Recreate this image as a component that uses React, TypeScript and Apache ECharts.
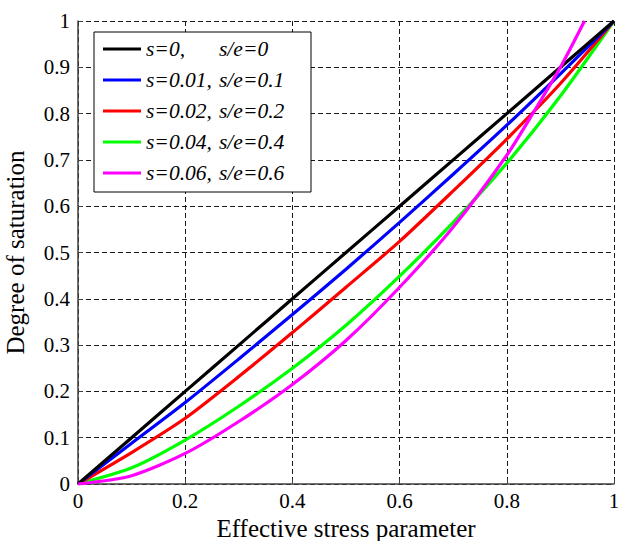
import React, { useEffect, useRef } from "react";
import * as echarts from "echarts";

const xValues = [0, 0.1, 0.2, 0.3, 0.4, 0.5, 0.6, 0.7, 0.8, 0.9, 1];
const sValues = ["0", "0.01", "0.02", "0.04", "0.06"];
const seValues = ["0", "0.1", "0.2", "0.4", "0.6"];
const colors = ["#000000", "#0000ff", "#ff0000", "#00ff00", "#ff00ff"];

const curveS0 = [0, 0.1, 0.2, 0.3, 0.4, 0.5, 0.6, 0.7, 0.8, 0.9, 1];
const curveS001 = [0, 0.088, 0.176, 0.27, 0.366, 0.464, 0.565, 0.669, 0.775, 0.886, 1];
const curveS002 = [0, 0.068, 0.142, 0.232, 0.327, 0.425, 0.524, 0.633, 0.745, 0.865, 1];
const curveS004 = [0, 0.035, 0.095, 0.168, 0.25, 0.343, 0.449, 0.565, 0.693, 0.838, 1];
const magentaX = [0, 0.1, 0.2, 0.3, 0.4, 0.5, 0.6, 0.7, 0.8, 0.85, 0.9, 0.945];
const curveS006 = [0, 0.018, 0.066, 0.135, 0.215, 0.31, 0.425, 0.555, 0.71, 0.803, 0.9, 1];

const xTicks = ["0", "0.2", "0.4", "0.6", "0.8", "1"];
const xName = "Effective stress parameter";
const yName = "Degree of saturation";

const FONT = "Times New Roman, Liberation Serif, DejaVu Serif, serif";

export default function App() {
  const ref = useRef<HTMLDivElement>(null);
  useEffect(() => {
    if (!ref.current) return;
    const chart = echarts.init(ref.current, null, { renderer: "svg" });
    const ys = [curveS0, curveS001, curveS002, curveS004];
    const names = sValues.map((s, i) => `s=${s}, s/e=${seValues[i]}`);
    const series: any[] = ys.map((arr, i) => ({
      name: names[i],
      type: "line",
      data: xValues.map((x, j) => [x, arr[j]]),
      showSymbol: false,
      smooth: 0.25,
      lineStyle: { color: colors[i], width: 3.2 },
      itemStyle: { color: colors[i] },
      z: 10 - i,
    }));
    series.push({
      name: names[4],
      type: "line",
      data: magentaX.map((x, j) => [x, curveS006[j]]),
      showSymbol: false,
      smooth: 0.25,
      lineStyle: { color: colors[4], width: 3.2 },
      itemStyle: { color: colors[4] },
      z: 11,
    });
    const gridLine = {
      show: true,
      lineStyle: { color: "#1a1a1a", width: 1, type: [5, 3] as any },
    };
    const legendText = {
      fontFamily: FONT,
      fontStyle: "italic",
      fontSize: 21.5,
      color: "#000",
      lineHeight: 22,
    };
    chart.setOption({
      animation: false,
      backgroundColor: "#fff",
      textStyle: { fontFamily: FONT },
      grid: {
        left: 78,
        right: 4,
        top: 21,
        bottom: 57,
        containLabel: false,
        outerBoundsMode: "none",
      },
      legend: {
        orient: "vertical",
        left: 94,
        top: 32,
        backgroundColor: "#fff",
        borderColor: "#000",
        borderWidth: 1,
        borderRadius: 0,
        padding: [6, 8, 8, 9],
        itemWidth: 38,
        itemHeight: 3,
        itemGap: 9,
        itemTextGap: 11,
        icon: "rect",
        data: names,
        formatter: (name: string) => {
          const parts = name.split(", ");
          return `{a|${parts[0]},}{b|${parts[1]}}`;
        },
        textStyle: {
          ...legendText,
          rich: {
            a: { ...legendText, width: 73 },
            b: { ...legendText, width: 84 },
          },
        },
      },
      xAxis: {
        type: "value",
        min: 0,
        max: 1,
        interval: 0.2,
        name: xName,
        nameLocation: "middle",
        nameGap: 32,
        nameTextStyle: { fontFamily: FONT, fontSize: 25, color: "#000" },
        axisLine: { show: true, lineStyle: { color: "#404040", width: 1.5 } },
        axisTick: { show: true, inside: true, length: 5, lineStyle: { color: "#404040" } },
        axisLabel: {
          fontFamily: FONT,
          fontSize: 21,
          color: "#000",
          margin: 6,
          formatter: (v: number) => xTicks[Math.round(v * 5)] ?? String(v),
        },
        splitLine: gridLine,
      },
      yAxis: {
        type: "value",
        min: 0,
        max: 1,
        interval: 0.1,
        name: yName,
        nameLocation: "middle",
        nameGap: 50,
        nameRotate: 90,
        nameTextStyle: { fontFamily: FONT, fontSize: 25, color: "#000" },
        axisLine: { show: true, lineStyle: { color: "#404040", width: 1.5 } },
        axisTick: { show: true, inside: true, length: 5, lineStyle: { color: "#404040" } },
        axisLabel: {
          fontFamily: FONT,
          fontSize: 21,
          color: "#000",
          margin: 8,
          formatter: (v: number) => String(Math.round(v * 10) / 10),
        },
        splitLine: gridLine,
      },
      series,
    });
    return () => chart.dispose();
  }, []);
  return (
    <div
      ref={ref}
      style={{ position: "absolute", left: 0, top: 0, width: 618, height: 541 }}
    />
  );
}
